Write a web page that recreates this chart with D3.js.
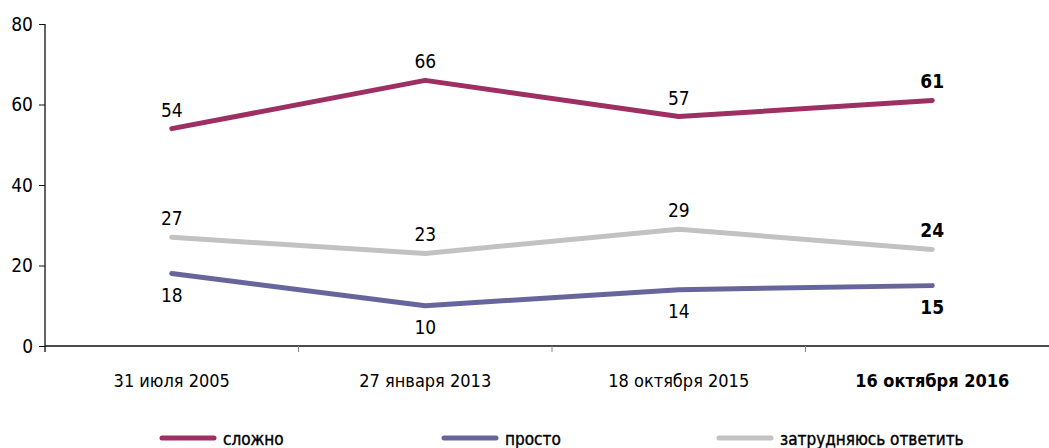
<!DOCTYPE html>
<html>
<head>
<meta charset="utf-8">
<script src="https://cdn.jsdelivr.net/npm/d3@7"></script>
<style>
  body { margin: 0; background: #fff; }
  svg text { font-family: "DejaVu Sans Condensed", "Liberation Sans Narrow", sans-serif; fill: #000; }
</style>
</head>
<body>
<svg id="chart" width="1049" height="448"></svg>
<script>
// values
let dates = ["31 июля 2005", "27 января 2013", "18 октября 2015", "16 октября 2016"];
let hard = [54, 66, 57, 61];      // сложно
let easy = [18, 10, 14, 15];      // просто
let unsure = [27, 23, 29, 24];    // затрудняюсь ответить
let yTicks = [0, 20, 40, 60, 80];

let series = [
  {name: "сложно", values: hard, color: "#9d2f62", labelPos: "above"},
  {name: "просто", values: easy, color: "#66669c", labelPos: "below"},
  {name: "затрудняюсь ответить", values: unsure, color: "#c2c2c2", labelPos: "above"}
];

let svg = d3.select("#chart");

let x = d3.scaleBand()
    .domain(dates)
    .range([45, 1059]);
let y = d3.scaleLinear()
    .domain([0, 80])
    .range([346, 24]);

// y axis
let yAxis = svg.append("g")
    .attr("transform", "translate(45,0)")
    .call(d3.axisLeft(y).tickValues(yTicks).tickSize(6).tickPadding(6));
yAxis.select(".domain").remove();
yAxis.selectAll("line").attr("stroke", "#111");
yAxis.selectAll("text").style("font-size", "19px").attr("fill", "#000");
svg.append("line")
    .attr("x1", 45).attr("x2", 45)
    .attr("y1", y(80)).attr("y2", y(0) + 6)
    .attr("stroke", "#111").attr("stroke-width", 1.3);

// x axis
svg.append("line")
    .attr("x1", 45).attr("x2", 1049)
    .attr("y1", y(0)).attr("y2", y(0))
    .attr("stroke", "#111").attr("stroke-width", 1.3);
svg.selectAll(".xtick")
  .data(dates.slice(1))
  .enter().append("line")
    .attr("x1", d => x(d)).attr("x2", d => x(d))
    .attr("y1", y(0)).attr("y2", y(0) + 6)
    .attr("stroke", "#888");
svg.selectAll(".xlabel")
  .data(dates)
  .enter().append("text")
    .attr("x", d => x(d) + x.bandwidth() / 2)
    .attr("y", 387)
    .attr("text-anchor", "middle")
    .style("font-size", "18px")
    .style("font-weight", (d, i) => i == dates.length - 1 ? "bold" : "normal")
    .text(d => d);

let line = d3.line()
    .x((d, i) => x(dates[i]) + x.bandwidth() / 2)
    .y(d => y(d));

for (let s of series) {
  svg.append("path")
      .datum(s.values)
      .attr("d", line)
      .attr("fill", "none")
      .attr("stroke", s.color)
      .attr("stroke-width", 5)
      .attr("stroke-linecap", "round")
      .attr("stroke-linejoin", "round");

  svg.selectAll(null)
    .data(s.values)
    .enter().append("text")
      .attr("x", (d, i) => x(dates[i]) + x.bandwidth() / 2)
      .attr("y", d => s.labelPos == "above" ? y(d) - 12 : y(d) + 28)
      .attr("text-anchor", "middle")
      .style("font-size", "19px")
      .style("font-weight", (d, i) => i == dates.length - 1 ? "bold" : "normal")
      .text(d => d);
}

// legend
let legendX = [160, 442, 717];
let legend = svg.selectAll(".legend")
  .data(series)
  .enter().append("g")
    .attr("transform", (d, i) => "translate(" + legendX[i] + ",438)");
legend.append("line")
    .attr("x1", 2).attr("x2", 54)
    .attr("stroke", d => d.color)
    .attr("stroke-width", 5)
    .attr("stroke-linecap", "round");
legend.append("text")
    .attr("x", 63).attr("y", 7)
    .style("font-size", "17px")
    .style("stroke", "#000")
    .style("stroke-width", 0.4)
    .text(d => d.name);
</script>
</body>
</html>
